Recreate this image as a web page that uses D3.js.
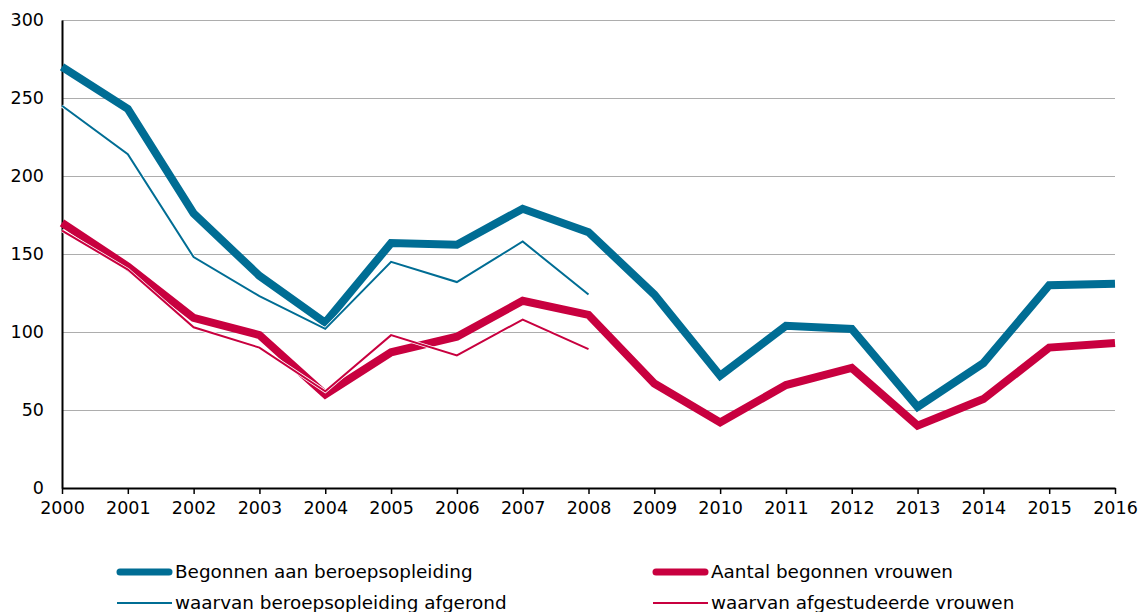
<!DOCTYPE html>
<html><head><meta charset="utf-8">
<script src="https://cdn.jsdelivr.net/npm/d3@7"></script>
<style>
html,body{margin:0;padding:0;background:#fff;}
svg text{font-family:"DejaVu Sans",Verdana,sans-serif;fill:#000;}
</style></head>
<body>
<svg id="chart" width="1140" height="612"></svg>
<script>
const years = [2000,2001,2002,2003,2004,2005,2006,2007,2008,2009,2010,2011,2012,2013,2014,2015,2016];
const begonnen = [270,243,176,136,106,157,156,179,164,124,72,104,102,52,80,130,131];
const afgerond = [245,214,148,123,102,145,132,158,124];
const vrouwen = [170,142,109,98,60,87,97,120,111,67,42,66,77,40,57,90,93];
const afgestudeerd = [165,140,103,90,62,98,85,108,89];
const yTicks = [0,50,100,150,200,250,300];
const seriesNames = ["Begonnen aan beroepsopleiding","Aantal begonnen vrouwen","waarvan beroepsopleiding afgerond","waarvan afgestudeerde vrouwen"];

const blue = "#006d94", red = "#c8003f";
const svg = d3.select("#chart");
const x = d3.scaleLinear().domain([2000,2016]).range([62,1115]);
const y = d3.scaleLinear().domain([0,300]).range([488,20]);

// gridlines
svg.append("g").selectAll("line").data(yTicks.filter(d=>d>0)).join("line")
  .attr("x1",62).attr("x2",1115).attr("y1",d=>y(d)).attr("y2",d=>y(d))
  .attr("stroke","#adadad").attr("stroke-width",1).attr("shape-rendering","crispEdges");

// y axis
const yAxis = svg.append("g").attr("transform","translate(62,0)")
  .call(d3.axisLeft(y).tickValues(yTicks).tickSize(0).tickPadding(18));
yAxis.select(".domain").attr("stroke","#000").attr("stroke-width",2);
yAxis.selectAll("text").style("font-size","17.5px").attr("dy","0.3em");

// x axis
const xAxis = svg.append("g").attr("transform","translate(0,488)")
  .call(d3.axisBottom(x).tickValues(years).tickFormat(d3.format("d")).tickSizeInner(6).tickSizeOuter(0).tickPadding(8));
xAxis.select(".domain").attr("stroke","#000").attr("stroke-width",2);
xAxis.selectAll(".tick line").attr("stroke","#000").attr("stroke-width",1.5);
xAxis.selectAll("text").style("font-size","17.5px");

const line = d3.line().x((d,i)=>x(years[i])).y(d=>y(d));

function drawThick(data,color){
  svg.append("path").datum(data).attr("d",line).attr("fill","none")
    .attr("stroke",color).attr("stroke-width",8).attr("stroke-linejoin","miter");
}
function drawThin(data,color){
  svg.append("path").datum(data).attr("d",line).attr("fill","none")
    .attr("stroke","#fff").attr("stroke-width",3.5).attr("stroke-linejoin","miter");
  svg.append("path").datum(data).attr("d",line).attr("fill","none")
    .attr("stroke",color).attr("stroke-width",2).attr("stroke-linejoin","miter");
}
drawThick(begonnen,blue);
drawThick(vrouwen,red);
drawThin(afgerond,blue);
drawThin(afgestudeerd,red);

// legend
const legend = [
  {name:seriesNames[0],color:blue,w:7,x:117,y:572},
  {name:seriesNames[1],color:red,w:7,x:653,y:572},
  {name:seriesNames[2],color:blue,w:2,x:117,y:603},
  {name:seriesNames[3],color:red,w:2,x:653,y:603}
];
const lg = svg.append("g").selectAll("g").data(legend).join("g");
lg.append("line").attr("x1",d=>d.x+(d.w>3?3:0)).attr("x2",d=>d.x+55-(d.w>3?3:0))
  .attr("y1",d=>d.y).attr("y2",d=>d.y)
  .attr("stroke",d=>d.color).attr("stroke-width",d=>d.w).attr("stroke-linecap",d=>d.w>3?"round":"butt");
lg.append("text").attr("x",d=>d.x+58).attr("y",d=>d.y).attr("dy","0.35em")
  .style("font-size","18.4px").text(d=>d.name);
</script>
</body></html>
